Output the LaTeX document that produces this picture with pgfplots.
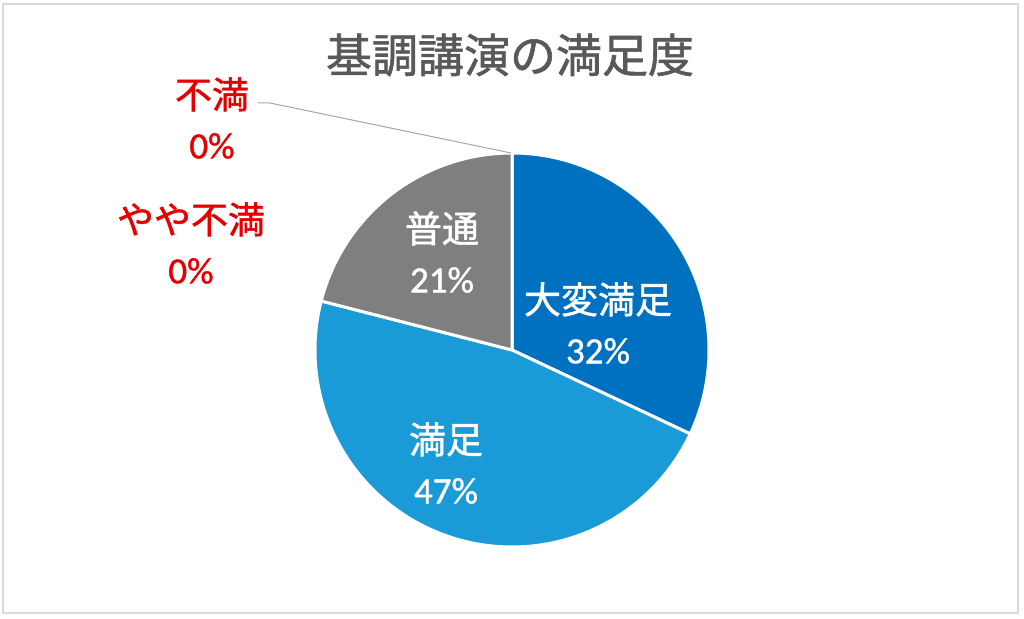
\documentclass[border=0pt]{standalone}
\usepackage{pgfplots}
\pgfplotsset{compat=1.18}
\usepackage{fontspec}
\setmainfont{Carlito}[FakeBold=1]
\newfontfamily\cjk{Noto Sans CJK JP}[FakeBold=1.3]
\definecolor{cA}{HTML}{0070C0}
\definecolor{cB}{HTML}{1A9BD7}
\definecolor{cC}{HTML}{7F7F7F}
\definecolor{redlab}{HTML}{E60000}
\definecolor{titlec}{HTML}{595959}
\definecolor{framec}{HTML}{D9D9D9}
% values (percent): 大変満足, 満足, 普通, やや不満, 不満
\def\vA{32}
\def\vB{47}
\def\vC{21}
\begin{document}
\begin{tikzpicture}[x=0.75pt,y=0.75pt]
\path[use as bounding box] (0,0) rectangle (1024,618);
\draw[framec, line width=1.5pt] (3,5) rectangle (1018,614);
\pgfmathsetmacro{\aA}{90}
\pgfmathsetmacro{\aB}{90-3.6*\vA}
\pgfmathsetmacro{\aC}{\aB-3.6*\vB}
\pgfmathsetmacro{\aD}{\aC-3.6*\vC}
\begin{axis}[
  at={(384pt,201pt)}, anchor=center,
  width=295.5pt, height=295.5pt, scale only axis,
  xmin=-1, xmax=1, ymin=-1, ymax=1,
  hide axis, clip=false]
\addplot[fill=cA, draw=white, line width=2.25pt, domain=\aB:\aA, samples=90, smooth] ({cos(x)},{sin(x)}) -- (axis cs:0,0) -- cycle;
\addplot[fill=cB, draw=white, line width=2.25pt, domain=\aC:\aB, samples=120, smooth] ({cos(x)},{sin(x)}) -- (axis cs:0,0) -- cycle;
\addplot[fill=cC, draw=white, line width=2.25pt, domain=\aD:\aC, samples=60, smooth] ({cos(x)},{sin(x)}) -- (axis cs:0,0) -- cycle;
\end{axis}
\draw[color={rgb,255:red,166;green,166;blue,166}, line width=0.75pt] (258,515) -- (270,515) -- (511,465);
\node[titlec, font=\fontsize{34.5}{40}\selectfont\cjk] at (510,563) {基調講演の満足度};
\node[white, align=center, font=\fontsize{27.75}{37.5}\selectfont] at (442,366) {{\cjk 普通}\\21\%};
\node[white, align=center, font=\fontsize{27.75}{37.5}\selectfont] at (598,295) {{\cjk 大変満足}\\32\%};
\node[white, align=center, font=\fontsize{27.75}{37.5}\selectfont] at (446,155) {{\cjk 満足}\\47\%};
\node[redlab, align=center, font=\fontsize{27.75}{37.5}\selectfont] at (212,500) {{\cjk 不満}\\0\%};
\node[redlab, align=center, font=\fontsize{27.75}{37.5}\selectfont] at (191,375) {{\cjk やや不満}\\0\%};
\end{tikzpicture}
\end{document}
